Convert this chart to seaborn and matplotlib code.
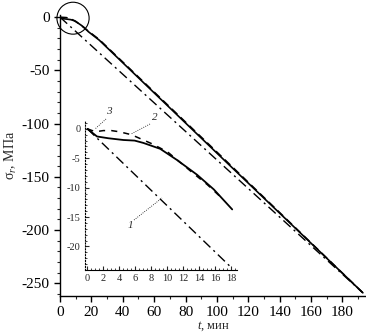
import numpy as np
import pandas as pd
import matplotlib
matplotlib.use("Agg")
import matplotlib.pyplot as plt
import seaborn as sns
from matplotlib.patches import Ellipse
from matplotlib.ticker import MultipleLocator

# ---- data ----
t_main_solid = [0, 1.2, 4.5, 7, 9.1, 11.2, 13.7, 15.8, 18.1, 25, 103, 193]
s_main_solid = [0, -1.4, -1.9, -2.4, -3.4, -5.3, -7.8, -10.3, -13.7, -21.6, -132, -259]
t_main_dash = [0, 2, 4, 5.5, 7, 8, 10, 13, 15, 16.5, 25, 103, 193]
s_main_dash = [0, -0.2, -0.4, -0.9, -1.8, -2.5, -3.9, -7.3, -9.5, -11.4, -21.0, -131, -259]
t_main_dd = [0, 193]
s_main_dd = [0, -259]

t_in_solid = [0, 1.2, 2.6, 4.5, 5.9, 7, 9.1, 11.2, 13.7, 15.8, 18.1]
s_in_solid = [0, -1.3, -1.6, -1.9, -2.0, -2.4, -3.4, -5.3, -7.8, -10.3, -13.7]
t_in_dash = [0, 1, 2, 3, 4, 5.5, 7, 8, 10, 13, 15, 16.5]
s_in_dash = [0, -0.5, -0.3, -0.3, -0.5, -1.0, -1.9, -2.5, -3.9, -7.3, -9.5, -11.4]
t_in_1 = [0, 18]
s_in_1 = [0, -23.6]

x_ticks_main = [0, 20, 40, 60, 80, 100, 120, 140, 160, 180]
y_ticks_main = [0, -50, -100, -150, -200, -250]
x_ticks_in = [0, 2, 4, 6, 8, 10, 12, 14, 16, 18]
y_ticks_in = [0, -5, -10, -15, -20]

sns.set_style("ticks")
plt.rcParams["font.family"] = ["Liberation Serif", "DejaVu Serif"]
plt.rcParams["mathtext.fontset"] = "custom"
plt.rcParams["mathtext.rm"] = "Liberation Serif"
plt.rcParams["mathtext.it"] = "Liberation Serif:italic"
plt.rcParams["axes.unicode_minus"] = False

W, H = 366, 335
fig = plt.figure(figsize=(W / 100, H / 100), dpi=100)
ax = fig.add_axes([60 / W, 1 - 296 / H, (366 - 60) / W, (296 - 15) / H])

dd = (0, (7, 3, 1.5, 3))
sns.lineplot(x=t_main_dd, y=s_main_dd, ax=ax, color="black", lw=1.0,
             linestyle=dd, sort=False)
sns.lineplot(x=t_main_dash, y=s_main_dash, ax=ax, color="black", lw=1.1,
             linestyle=(0, (5, 3)), sort=False)
sns.lineplot(x=t_main_solid, y=s_main_solid, ax=ax, color="black", lw=1.2,
             sort=False)

ax.set_xlim(0, 195)
ax.set_ylim(-262, 2)
ax.set_xticks(x_ticks_main)
ax.set_yticks(y_ticks_main)
ax.xaxis.set_minor_locator(MultipleLocator(10))
ax.yaxis.set_minor_locator(MultipleLocator(10))
ax.tick_params(which="major", direction="out", length=4, width=1,
               labelsize=11, color="black", labelcolor="black")
ax.tick_params(which="minor", direction="out", length=2, width=0.8)
for s in ("top", "right"):
    ax.spines[s].set_visible(False)
for s in ("left", "bottom"):
    ax.spines[s].set_color("black")
    ax.spines[s].set_linewidth(1.0)
ax.set_xlabel(r"$t$, мин", fontsize=9, labelpad=0)
ax.set_ylabel(r"σ$_r$, МПа", fontsize=10, labelpad=2)

# circle around the origin
ax.add_patch(Ellipse((8.3, -1.0), 20.5, 30, fill=False, edgecolor="black",
                     lw=0.8, clip_on=False))

# ---- inset ----
ins = fig.add_axes([85 / W, 1 - 270 / H, (237 - 85) / W, (270 - 120) / H])
ins.set_facecolor("none")
sns.lineplot(x=t_in_1, y=s_in_1, ax=ins, color="black", lw=1.0,
             linestyle=dd, sort=False)
sns.lineplot(x=t_in_dash, y=s_in_dash, ax=ins, color="black", lw=1.1,
             linestyle=(0, (4, 4)), sort=False)
sns.lineplot(x=t_in_solid, y=s_in_solid, ax=ins, color="black", lw=1.3,
             sort=False)
ins.set_xlim(-0.3, 18.7)
ins.set_ylim(-24, 1.5)
ins.set_xticks(x_ticks_in)
ins.set_yticks(y_ticks_in)
ins.xaxis.set_minor_locator(MultipleLocator(0.5))
ins.yaxis.set_minor_locator(MultipleLocator(1))
ins.tick_params(which="major", direction="in", length=3, width=0.8,
                labelsize=7.5, pad=3)
ins.tick_params(which="minor", direction="in", length=1.5, width=0.6)
for s in ("top", "right"):
    ins.spines[s].set_visible(False)
ins.spines["left"].set_linestyle(":")
ins.spines["left"].set_linewidth(0.8)
ins.spines["bottom"].set_linewidth(0.8)
ins.spines["left"].set_color("black")
ins.spines["bottom"].set_color("black")
ins.set_xlabel("")
ins.set_ylabel("")


def px(x, y):
    return x / W, 1 - y / H


# curve labels and leader lines (figure coordinates)
for lab, (lx, ly), (x0, y0), (x1, y1) in [
    ("3", (109, 112), (106, 119), (95, 129)),
    ("2", (155, 118), (150, 124), (131, 134)),
    ("1", (130, 226), (134, 220), (162, 198)),
]:
    fig.text(*px(lx, ly), lab, fontsize=8, style="italic", ha="center",
             va="center")
    fig.add_artist(plt.Line2D([x0 / W, x1 / W], [1 - y0 / H, 1 - y1 / H],
                              transform=fig.transFigure, color="black",
                              lw=0.6, linestyle=":"))

fig.savefig("out.png", dpi=100)
